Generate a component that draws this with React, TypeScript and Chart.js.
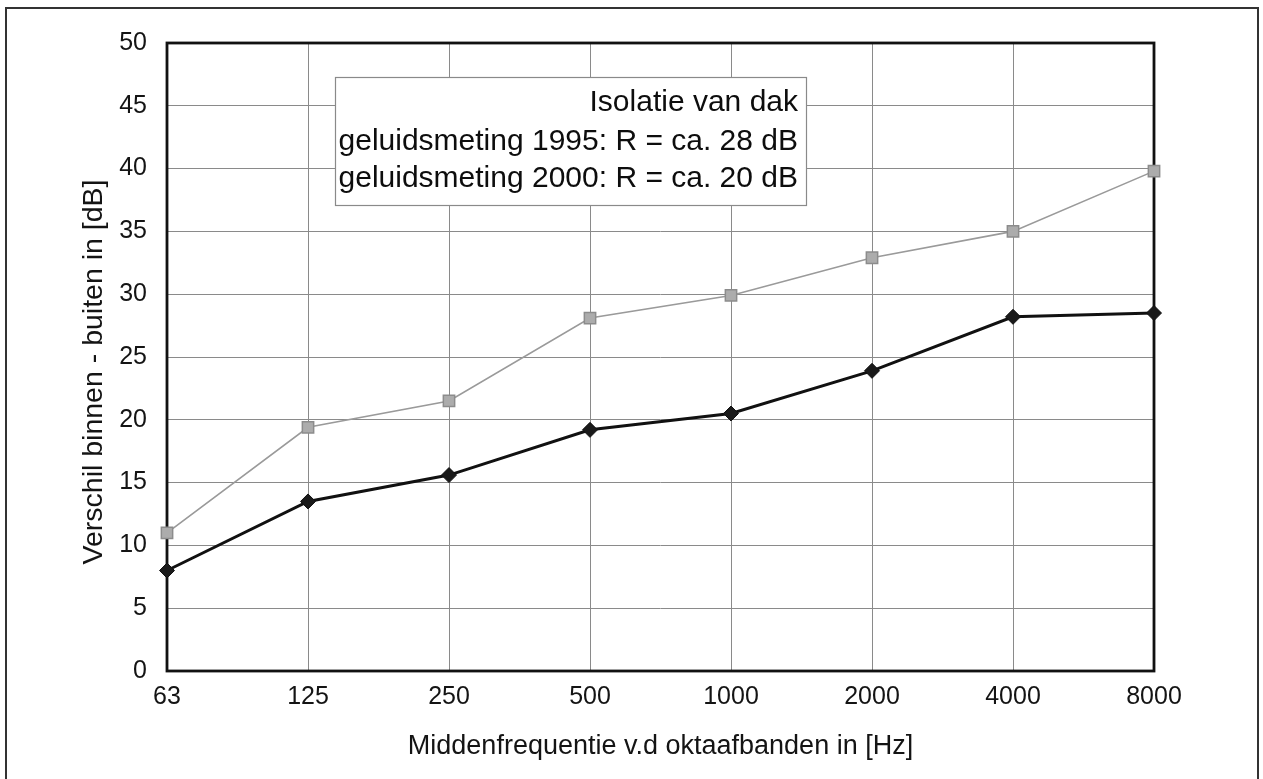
import React, { useEffect, useRef } from "react";
import { Chart, registerables } from "chart.js";

Chart.register(...registerables);

const frequencies = ["63", "125", "250", "500", "1000", "2000", "4000", "8000"];
const meting1995 = [11.0, 19.4, 21.5, 28.1, 29.9, 32.9, 35.0, 39.8];
const meting2000 = [8.0, 13.5, 15.6, 19.2, 20.5, 23.9, 28.2, 28.5];
const yMin = 0;
const yMax = 50;
const yStep = 5;
const legendLines = [
  "Isolatie van dak",
  "geluidsmeting 1995: R = ca. 28 dB",
  "geluidsmeting 2000: R = ca. 20 dB",
];
const xTitle = "Middenfrequentie v.d oktaafbanden in [Hz]";
const yTitle = "Verschil binnen - buiten in [dB]";

const FONT = "'Liberation Sans', Arial, Helvetica, sans-serif";

const decorPlugin = {
  id: "decor",
  beforeDatasetsDraw(chart: any) {
    const { ctx, chartArea } = chart;
    const { left, right, top, bottom } = chartArea;
    ctx.save();
    ctx.strokeStyle = "#111";
    ctx.lineWidth = 2.8;
    ctx.strokeRect(left, top, right - left, bottom - top);
    ctx.restore();
  },
  afterDraw(chart: any) {
    const { ctx, chartArea } = chart;
    const { left, right } = chartArea;
    ctx.save();
    // outer frame
    ctx.strokeStyle = "#333";
    ctx.lineWidth = 2;
    ctx.strokeRect(6, 8, 1252, 790);

    // axis titles
    ctx.fillStyle = "#141414";
    ctx.font = `27px ${FONT}`;
    ctx.textAlign = "center";
    ctx.textBaseline = "middle";
    ctx.fillText(xTitle, (left + right) / 2, 747);
    ctx.save();
    ctx.translate(94, 372);
    ctx.rotate(-Math.PI / 2);
    ctx.font = `28.5px ${FONT}`;
    ctx.fillText(yTitle, 0, 0);
    ctx.restore();

    // annotation box
    const bx = 335, by = 77, bw = 471, bh = 128;
    ctx.fillStyle = "#ffffff";
    ctx.fillRect(bx, by, bw, bh);
    ctx.strokeStyle = "#8a8a8a";
    ctx.lineWidth = 1.2;
    ctx.strokeRect(bx + 0.5, by + 0.5, bw, bh);
    ctx.fillStyle = "#0d0d0d";
    ctx.font = `30px ${FONT}`;
    ctx.textAlign = "right";
    ctx.textBaseline = "alphabetic";
    const baselines = [111, 150, 187];
    legendLines.forEach((t, i) => ctx.fillText(t, 798, baselines[i]));
    ctx.restore();
  },
};

export default function App() {
  const ref = useRef<HTMLCanvasElement | null>(null);

  useEffect(() => {
    if (!ref.current) return;
    const chart = new Chart(ref.current, {
      type: "line",
      data: {
        labels: frequencies,
        datasets: [
          {
            label: "geluidsmeting 2000",
            data: meting2000,
            borderColor: "#111111",
            backgroundColor: "#111111",
            borderWidth: 3,
            pointStyle: "rectRot",
            pointRadius: 7.5,
            pointBorderWidth: 1,
            pointBorderColor: "#111111",
            pointBackgroundColor: "#1a1a1a",
            tension: 0,
            order: 1,
          },
          {
            label: "geluidsmeting 1995",
            data: meting1995,
            borderColor: "#9a9a9a",
            backgroundColor: "#a6a6a6",
            borderWidth: 1.6,
            pointStyle: "rect",
            pointRadius: 8,
            pointBorderWidth: 1.5,
            pointBorderColor: "#8c8c8c",
            pointBackgroundColor: "#acacac",
            tension: 0,
            order: 2,
          },
        ],
      },
      options: {
        animation: false,
        responsive: false,
        devicePixelRatio: 1,
        layout: { padding: { left: 20, top: 43, right: 109, bottom: 48 } },
        plugins: {
          legend: { display: false },
          tooltip: { enabled: false },
          title: { display: false },
        },
        scales: {
          x: {
            type: "category",
            offset: false,
            grid: { color: "#8a8a8a", lineWidth: 1, drawTicks: false },
            border: { display: false },
            ticks: {
              color: "#141414",
              font: { family: FONT, size: 25 },
              padding: 11,
              maxRotation: 0,
              autoSkip: false,
            },
            afterFit(scale: any) {
              scale.height = 60;
            },
          },
          y: {
            type: "linear",
            min: yMin,
            max: yMax,
            grid: { color: "#8a8a8a", lineWidth: 1, drawTicks: false },
            border: { display: false },
            ticks: {
              stepSize: yStep,
              color: "#141414",
              font: { family: FONT, size: 25 },
              padding: 20,
            },
            afterFit(scale: any) {
              scale.width = 147;
            },
          },
        },
      },
      plugins: [decorPlugin],
    });
    return () => chart.destroy();
  }, []);

  return (
    <div style={{ position: "fixed", left: 0, top: 0, width: 1263, height: 779, background: "#fff" }}>
      <canvas ref={ref} width={1263} height={779} style={{ display: "block", width: 1263, height: 779 }} />
    </div>
  );
}
